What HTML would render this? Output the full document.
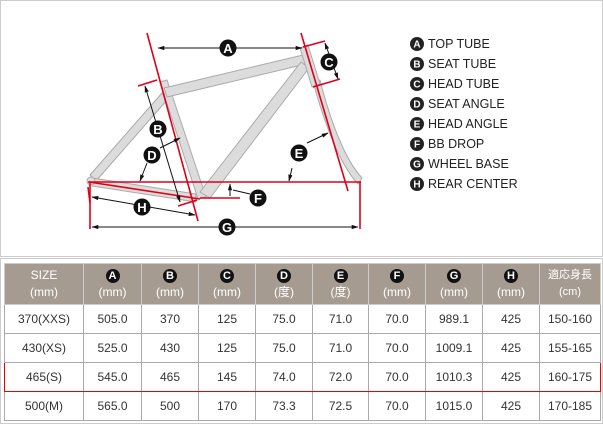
<!DOCTYPE html>
<html><head><meta charset="utf-8"><style>
body{margin:0;width:603px;height:424px;background:#fff;overflow:hidden;font-family:"Liberation Sans","Noto Sans CJK JP",sans-serif}
svg{position:absolute;left:0;top:0}
table{position:absolute;left:4px;top:263px;border-collapse:collapse;font-size:12px;color:#333}
td{border:1px solid #aaa;text-align:center;padding:0;height:28px}
tr.h td{background:#a69b91;color:#fff;height:40px;line-height:17px;border-color:#ccc}
.c{display:inline-block;width:14px;height:14px;border-radius:50%;background:#111;color:#fff;font-size:11px;line-height:14px;font-weight:bold}
tr.s td{border-top:1px solid #e00;border-bottom:1px solid #e00}
tr.s td:first-child{border-left:1px solid #e00}tr.s td:last-child{border-right:1px solid #e00}
</style></head><body>
<svg width="603" height="424" font-family="Liberation Sans, sans-serif">
<defs><marker id="a" viewBox="0 0 10 10" refX="9" refY="5" markerWidth="7" markerHeight="7" orient="auto-start-reverse"><path d="M0,2 L10,5 L0,8Z" fill="#111"/></marker></defs>
<rect x="0.5" y="0.5" width="602" height="256" fill="none" stroke="#ccc"/>
<rect x="0.5" y="258.5" width="602" height="165" fill="none" stroke="#ccc"/>
<g stroke="#aaa" stroke-width="1" fill="#dcdcdc" stroke-linejoin="round">
<polygon points="90,175 162,93 167,100 96,181"/>
<polygon points="92,178 196,194 196,202 92,186"/>
<polygon points="160,82 167,80 206,197 198,199"/>
<polygon points="164,88 303,55 306,64 167,97"/>
<polygon points="301,62 309,68 210,198 200,192"/>
<path d="M313,82 L320,80 C330,120 345,160 362,178 L358,184 C340,165 325,125 313,82Z"/>
<polygon points="300,48 308,45 320,84 312,87"/>
<circle cx="91" cy="181" r="4"/>
</g>
<g stroke="#e0001a" stroke-width="1.6" fill="none">
<line x1="147" y1="33" x2="198" y2="221"/>
<line x1="301" y1="33" x2="348" y2="191"/>
<line x1="303" y1="47" x2="325" y2="41"/>
<line x1="313" y1="87" x2="340" y2="79"/>
<line x1="138" y1="86" x2="157" y2="80"/>
<line x1="178" y1="206" x2="197" y2="200"/>
<line x1="88" y1="182" x2="361" y2="182"/>
<line x1="89" y1="182" x2="200" y2="199"/>
<line x1="200" y1="198" x2="240" y2="198"/>
<line x1="88" y1="187" x2="90" y2="203"/>
<line x1="90" y1="182" x2="90" y2="229"/>
<line x1="360" y1="182" x2="360" y2="229"/>
</g>
<g stroke="#111" stroke-width="1" fill="none">
<line x1="158" y1="48" x2="302" y2="48" marker-start="url(#a)" marker-end="url(#a)"/>
<line x1="325" y1="43" x2="338" y2="79" marker-start="url(#a)" marker-end="url(#a)"/>
<line x1="145" y1="86" x2="180" y2="202" marker-start="url(#a)" marker-end="url(#a)"/>
<line x1="160" y1="148" x2="180" y2="138" marker-end="url(#a)"/>
<line x1="147" y1="163" x2="140" y2="181" marker-end="url(#a)"/>
<line x1="292" y1="168" x2="289" y2="181" marker-end="url(#a)"/>
<line x1="307" y1="143" x2="328" y2="133" marker-end="url(#a)"/>
<line x1="230" y1="196" x2="230" y2="184" marker-end="url(#a)"/>
<line x1="233" y1="190" x2="250" y2="194"/>
<line x1="92" y1="197" x2="195" y2="215" marker-start="url(#a)" marker-end="url(#a)"/>
<line x1="92" y1="227" x2="358" y2="227" marker-start="url(#a)" marker-end="url(#a)"/>
</g>
<g fill="#111" font-size="13" font-weight="bold" text-anchor="middle">
<circle cx="228" cy="48" r="8.5"/><text x="228" y="53" fill="#fff">A</text>
<circle cx="329" cy="62" r="8.5"/><text x="329" y="67" fill="#fff">C</text>
<circle cx="158" cy="129" r="8.5"/><text x="158" y="134" fill="#fff">B</text>
<circle cx="152" cy="155" r="8.5"/><text x="152" y="160" fill="#fff">D</text>
<circle cx="299" cy="153" r="8.5"/><text x="299" y="158" fill="#fff">E</text>
<circle cx="258" cy="198" r="8.5"/><text x="258" y="203" fill="#fff">F</text>
<circle cx="142" cy="207" r="8.5"/><text x="142" y="212" fill="#fff">H</text>
<circle cx="227" cy="227" r="8.5"/><text x="227" y="232" fill="#fff">G</text>
</g>
<g font-size="12.5" fill="#222">
<g font-weight="bold" font-size="10" text-anchor="middle">
<circle cx="417" cy="44" r="7"/><text x="417" y="47.5" fill="#fff">A</text>
<circle cx="417" cy="64" r="7"/><text x="417" y="67.5" fill="#fff">B</text>
<circle cx="417" cy="84" r="7"/><text x="417" y="87.5" fill="#fff">C</text>
<circle cx="417" cy="104" r="7"/><text x="417" y="107.5" fill="#fff">D</text>
<circle cx="417" cy="124" r="7"/><text x="417" y="127.5" fill="#fff">E</text>
<circle cx="417" cy="144" r="7"/><text x="417" y="147.5" fill="#fff">F</text>
<circle cx="417" cy="164" r="7"/><text x="417" y="167.5" fill="#fff">G</text>
<circle cx="417" cy="184" r="7"/><text x="417" y="187.5" fill="#fff">H</text>
</g>
<text x="428" y="48">TOP TUBE</text>
<text x="428" y="68">SEAT TUBE</text>
<text x="428" y="88">HEAD TUBE</text>
<text x="428" y="108">SEAT ANGLE</text>
<text x="428" y="128">HEAD ANGLE</text>
<text x="428" y="148">BB DROP</text>
<text x="428" y="168">WHEEL BASE</text>
<text x="428" y="188">REAR CENTER</text>
</g>
</svg>
<table>
<colgroup><col style="width:79px"><col style="width:58px"><col style="width:57px"><col style="width:57px"><col style="width:57px"><col style="width:56px"><col style="width:57px"><col style="width:57px"><col style="width:57px"><col style="width:61px"></colgroup>
<tr class="h"><td>SIZE<br>(mm)</td><td><span class="c">A</span><br>(mm)</td><td><span class="c">B</span><br>(mm)</td><td><span class="c">C</span><br>(mm)</td><td><span class="c">D</span><br>(度)</td><td><span class="c">E</span><br>(度)</td><td><span class="c">F</span><br>(mm)</td><td><span class="c">G</span><br>(mm)</td><td><span class="c">H</span><br>(mm)</td><td style="font-size:11px">適応身長<br>(cm)</td></tr>
<tr><td>370(XXS)</td><td>505.0</td><td>370</td><td>125</td><td>75.0</td><td>71.0</td><td>70.0</td><td>989.1</td><td>425</td><td>150-160</td></tr>
<tr><td>430(XS)</td><td>525.0</td><td>430</td><td>125</td><td>75.0</td><td>71.0</td><td>70.0</td><td>1009.1</td><td>425</td><td>155-165</td></tr>
<tr class="s"><td>465(S)</td><td>545.0</td><td>465</td><td>145</td><td>74.0</td><td>72.0</td><td>70.0</td><td>1010.3</td><td>425</td><td>160-175</td></tr>
<tr><td>500(M)</td><td>565.0</td><td>500</td><td>170</td><td>73.3</td><td>72.5</td><td>70.0</td><td>1015.0</td><td>425</td><td>170-185</td></tr>
</table>
</body></html>
